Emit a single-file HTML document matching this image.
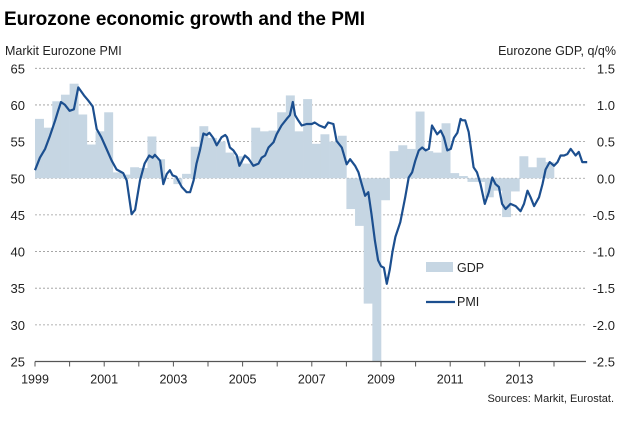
<!DOCTYPE html>
<html><head><meta charset="utf-8"><style>
body{margin:0;background:#fff;width:640px;height:418px;overflow:hidden;font-family:"Liberation Sans",sans-serif}
svg text{font-family:"Liberation Sans",sans-serif}
</style></head><body>
<svg id="chart" width="640" height="418" xmlns="http://www.w3.org/2000/svg">
<text x="4" y="25" font-size="19" font-weight="bold" fill="#000">Eurozone economic growth and the PMI</text>
<text x="5" y="55" font-size="12.5" fill="#222">Markit Eurozone PMI</text>
<text x="616" y="55" font-size="12.5" fill="#222" text-anchor="end">Eurozone GDP, q/q%</text>
<g id="grid"></g><g id="bars"></g><g id="line"></g><g id="axes"></g>
<g>
<rect x="426" y="262" width="27" height="10" fill="#c6d6e3"/>
<text x="457" y="272" font-size="12.5" fill="#222">GDP</text>
<line x1="426" y1="302" x2="455" y2="302" stroke="#1c4f8f" stroke-width="2.2"/>
<text x="457" y="306" font-size="12.5" fill="#222">PMI</text>
</g>
<text x="614" y="402" font-size="11" fill="#222" text-anchor="end">Sources: Markit, Eurostat.</text>
</svg>
<script>
const gdpValues=[0.81,0.69,1.05,1.14,1.29,0.87,0.46,0.64,0.90,0.08,0.05,0.15,0.14,0.57,0.26,0.0,-0.08,0.06,0.43,0.71,0.55,0.5,0.35,0.3,0.2,0.69,0.64,0.65,0.9,1.13,0.64,1.08,0.47,0.6,0.5,0.58,-0.42,-0.65,-1.71,-2.5,-0.3,0.37,0.45,0.4,0.91,0.37,0.35,0.75,0.07,0.03,-0.05,-0.05,-0.26,-0.17,-0.53,-0.18,0.3,0.15,0.28,0.22,0.0];
const pmiMonths=[0,1.7,3.5,5.2,7,8,9,10.4,12,13.5,15,17,18.5,20,21.4,23,24.6,26.6,28.3,30.6,31.8,33.5,34.7,36.4,38,39.6,40.8,41.6,43.4,44.5,45.7,46.8,47.7,49,50.9,52.6,53.8,55,56,57.2,58.4,59.5,60.5,61.8,63,64.7,66,66.6,67.6,68.8,70,70.9,72.8,74,75.7,77.5,78.6,79.8,81,82.7,83.8,85.5,87.3,88.4,89.4,90.2,91.3,92.5,94.2,96,97,98.6,100.5,101.7,103.5,104.6,106.4,108.1,109.3,111,112.2,113.3,114.5,115.6,116.7,117.9,119,120,121,122,123,124,125,126.7,128.4,129.6,130.8,131.9,133.1,134.3,135.5,136.6,137.7,139.5,140.7,141.8,143,144.2,145.3,146.5,147.6,148.2,149.2,150.4,152.1,153.3,154.5,156,157.4,158.6,159.7,160.9,162,163.2,164.9,166.7,168.4,169.6,170.8,171.9,173.1,174.8,176,177.1,178.5,180,181.2,182.3,183.5,184.6,185.8,187.5,188.6,189.8,191.5];
const pmiValues=[51.1,52.8,54.0,55.8,57.9,59.2,60.4,60.0,59.2,59.4,62.4,61.3,60.6,59.8,56.7,55.6,54.2,52.4,51.2,50.7,49.7,45.1,45.7,49.7,52.0,53.1,52.8,53.2,52.4,49.2,50.6,51.1,50.4,50.2,48.8,48.1,48.1,49.7,52.0,53.8,56.1,55.9,56.2,55.5,54.5,55.6,55.9,55.6,54.2,53.8,53.1,51.7,53.1,52.7,51.7,52.0,52.8,53.1,54.2,54.9,56.0,57.2,58.1,58.6,60.4,58.6,57.9,57.2,57.4,57.4,57.6,57.2,56.9,57.6,57.4,55.1,54.2,51.9,52.6,51.7,50.8,49.2,47.6,48.1,45.1,41.5,38.8,38.0,37.8,35.6,37.5,40.0,42.0,44.0,47.4,50.1,50.8,52.4,53.8,54.2,53.8,54.0,57.2,56.0,56.5,55.6,53.8,54.0,55.5,56.2,58.1,57.9,57.9,56.3,51.5,50.8,49.2,46.5,48.1,50.1,49.2,48.8,46.5,45.8,46.5,46.2,45.5,46.5,48.3,47.4,46.2,47.4,49.2,51.2,52.2,51.7,52.2,53.1,53.1,53.3,54.0,53.1,53.6,52.2,52.2];
const leftTicks=[25,30,35,40,45,50,55,60,65];
const rightTickLabels=["-2.5","-2.0","-1.5","-1.0","-0.5","0.0","0.5","1.0","1.5"];
const yearLabels=[1999,2001,2003,2005,2007,2009,2011,2013];
const NS="http://www.w3.org/2000/svg";
const X0=35,X1=586,YW=34.6;
const yP=v=>68.3+(65-v)*7.33;
const yG=g=>yP(50+10*g);
const xM=m=>X0+m*YW/12;
function mk(t,a,p){const e=document.createElementNS(NS,t);for(const k in a)e.setAttribute(k,a[k]);document.getElementById(p).appendChild(e);return e;}
leftTicks.forEach((v,i)=>{
  if(v>25){const l=mk('line',{x1:X0,x2:X1,y1:yP(v),y2:yP(v),stroke:'#999','stroke-width':0.8,'stroke-dasharray':'2,2'},'grid');
  
  }
  const t=mk('text',{x:25,y:yP(v)+5,'font-size':13,'text-anchor':'end',fill:'#222'},'axes');t.textContent=v;
  
  
  const r=mk('text',{x:615,y:yP(v)+5,'font-size':13,'text-anchor':'end',fill:'#222'},'axes');r.textContent=rightTickLabels[i];
  
  
});
gdpValues.forEach((g,i)=>{
  const x=xM(i*3),w=xM(i*3+3)-x,y0=yG(0),y1=yG(g);
  const b=mk('rect',{x:x,y:Math.min(y0,y1),width:w+0.3,height:Math.abs(y1-y0),fill:'#c6d6e3'},'bars');
  
  
});
const pts=pmiMonths.map((m,i)=>xM(m).toFixed(1)+','+yP(pmiValues[i]).toFixed(1)).join(' ');
const pl=mk('polyline',{points:pts,fill:'none',stroke:'#1c4f8f','stroke-width':2.2,'stroke-linejoin':'round'},'line');


const ax=mk('line',{x1:X0,x2:X1,y1:yP(25),y2:yP(25),stroke:'#555','stroke-width':1.2},'axes');


for(let k=0;k<=15;k++){
  const tk=mk('line',{x1:X0+k*YW,x2:X0+k*YW,y1:yP(25),y2:yP(25)+5,stroke:'#555','stroke-width':1},'axes');
  
  
}
yearLabels.forEach(yr=>{
  const t=mk('text',{x:X0+(yr-1999)*YW,y:yP(25)+22,'font-size':12.5,'text-anchor':'middle',fill:'#222'},'axes');t.textContent=yr;
  
  
});
</script>
</body></html>
